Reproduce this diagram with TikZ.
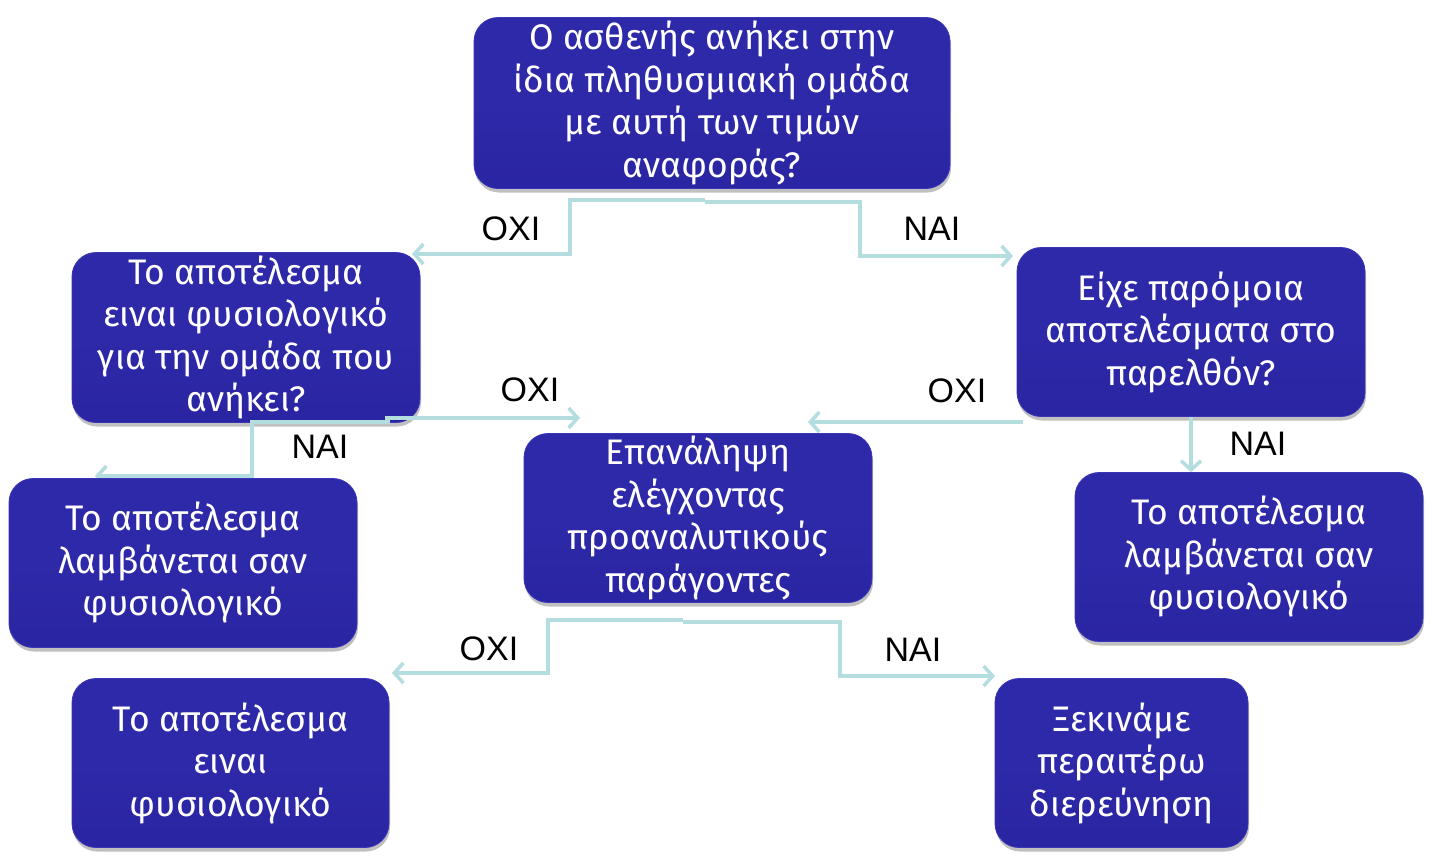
\documentclass[tikz,border=0pt]{standalone}
\usepackage{fontspec}
\setmainfont{Fira Sans}
\newfontfamily\lblfont{Liberation Sans}
\usetikzlibrary{arrows.meta,shadows}
\definecolor{boxtop}{HTML}{5050D4}
\definecolor{boxmid}{HTML}{2E29A8}
\definecolor{boxbot}{HTML}{26209C}
\definecolor{boxrim}{HTML}{3A36B6}
\definecolor{conncol}{HTML}{B4DDE0}
\pgfdeclareverticalshading{boxshade}{100bp}{color(0bp)=(boxbot); color(50bp)=(boxmid); color(88bp)=(boxmid); color(97bp)=(boxtop); color(100bp)=(boxtop)}
\pgfdeclarelayer{front}
\pgfsetlayers{main,front}
\tikzset{
  flowbox/.style={rectangle, rounded corners=24pt, shading=boxshade,
    draw=boxrim, line width=0.8pt, text=white, align=center, inner sep=0pt,
    font=\fontsize{35.5}{42.5}\selectfont,
    drop shadow={shadow xshift=1pt, shadow yshift=-4pt, fill=black!45, opacity=0.55}},
  lbl/.style={font=\lblfont\fontsize{34}{36}\selectfont, text=black, inner sep=0pt},
  conn/.style={draw=conncol, line width=3.5pt, line join=miter,
    -{Straight Barb[length=9pt,width=20pt,line width=3.5pt]}}
}
\begin{document}
\begin{tikzpicture}[x=1pt,y=-1pt]
\useasboundingbox (0,0) rectangle (1432,862);
% boxes
\node[flowbox, minimum width=476pt, minimum height=171pt] (q1) at (712,103)
  {Ο ασθενής ανήκει στην\\ίδια πληθυσμιακή ομάδα\\με αυτή των τιμών\\αναφοράς?};
\node[flowbox, minimum width=348pt, minimum height=170pt] (q2) at (246,337.5)
  {Το αποτέλεσμα\\ειναι φυσιολογικό\\για την ομάδα που\\ανήκει?};
\node[flowbox, minimum width=348pt, minimum height=169pt] (q3) at (1191,332)
  {Είχε παρόμοια\\αποτελέσματα στο\\παρελθόν?};
\node[flowbox, minimum width=348pt, minimum height=169pt] (rep) at (698,518)
  {Επανάληψη\\ελέγχοντας\\προαναλυτικούς\\παράγοντες};
\begin{pgfonlayer}{front}
\node[flowbox, minimum width=348pt, minimum height=169pt] (n1) at (183,563)
  {Το αποτέλεσμα\\λαμβάνεται σαν\\φυσιολογικό};
\end{pgfonlayer}
\node[flowbox, minimum width=348pt, minimum height=169pt] (n2) at (1249,557)
  {Το αποτέλεσμα\\λαμβάνεται σαν\\φυσιολογικό};
\node[flowbox, minimum width=317pt, minimum height=169pt] (n3) at (230.5,763)
  {Το αποτέλεσμα\\ειναι\\φυσιολογικό};
\node[flowbox, minimum width=253pt, minimum height=169pt] (inv) at (1121.5,763)
  {Ξεκινάμε\\περαιτέρω\\διερεύνηση};
% labels
\node[lbl] (l1) at (511,229) {ΟΧΙ};
\node[lbl] (l2) at (932,229) {ΝΑΙ};
\node[lbl] (l3) at (530,390) {ΟΧΙ};
\node[lbl] (l4) at (320,447) {ΝΑΙ};
\node[lbl] (l5) at (957,391) {ΟΧΙ};
\node[lbl] (l6) at (1258,444) {ΝΑΙ};
\node[lbl] (l7) at (489,649) {ΟΧΙ};
\node[lbl] (l8) at (913,650) {ΝΑΙ};
% waypoints
\coordinate (w1) at (570,200);
\coordinate (w2) at (860,202);
\coordinate (w3) at (252,422);
\coordinate (w4) at (548,620);
\coordinate (w5) at (840,622);
\coordinate (e1) at (95,476);
\coordinate (e2) at (580,418);
\coordinate (e3) at (808,422);
\coordinate (e4) at (392,673);
\coordinate (e5) at (995,676);
\coordinate (e6) at (412,254);
\coordinate (e7) at (1013,256);
% connectors
\draw[conn] ([xshift=-7pt]q1.south |- w1) -- (w1) -- (w1 |- e6) -- (e6);
\draw[conn] ([xshift=-7pt]q1.south |- w2) -- (w2) -- (w2 |- e7) -- (e7);
\draw[conn] ([xshift=-35pt]q2.south east |- e2) -- (e2);
\draw[conn] ([xshift=-30pt]q2.south east |- w3) -- (w3) -- (w3 |- e1) -- (e1);
\draw[conn] ([xshift=6pt]q3.south west |- e3) -- (e3);
\draw[conn] (q3.south) -- (q3.south |- n2.north);
\draw[conn] ([xshift=-15pt]rep.south |- w4) -- (w4) -- (w4 |- e4) -- (e4);
\draw[conn] ([xshift=-15pt]rep.south |- w5) -- (w5) -- (w5 |- e5) -- (e5);
\end{tikzpicture}
\end{document}
